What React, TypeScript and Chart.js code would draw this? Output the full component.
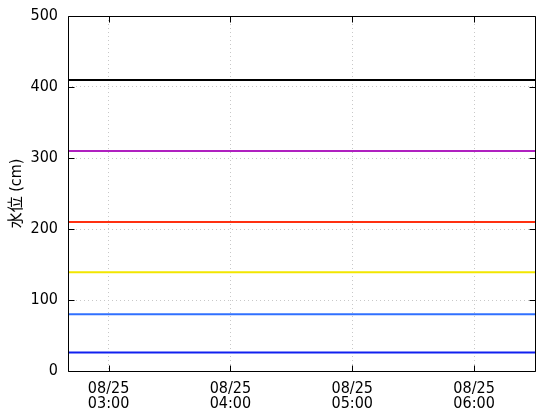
import React, { useEffect, useRef } from "react";
import { Chart, registerables } from "chart.js";

Chart.register(...registerables);

// x values are minutes since 00:00 on 08/25
const xRange = [160, 390];
const tickMinutes = [180, 240, 300, 360];
const tickDate = "08/25";
const yTicks = [0, 100, 200, 300, 400, 500];

const levelNames = ["L1", "L2", "L3", "L4", "L5", "L6"];
const levelValues = [410, 310, 210, 139, 80, 26];
const levelColors = ["#000000", "#b020c0", "#ff3010", "#f2e600", "#3070ff", "#1020f0"];

const yTitle = "水位 (cm)";

const fmt = (m: number) => {
  const h = Math.floor(m / 60);
  const mm = m % 60;
  return `${String(h).padStart(2, "0")}:${String(mm).padStart(2, "0")}`;
};

const framePlugin = {
  id: "frameTicks",
  afterDraw(chart: any) {
    const { ctx, chartArea } = chart;
    const { left, right, top, bottom } = chartArea;
    const xs = chart.scales.x;
    const ys = chart.scales.y;
    const len = 6;
    ctx.save();
    ctx.setLineDash([]);
    ctx.strokeStyle = "#000";
    ctx.lineWidth = 1;
    ctx.beginPath();
    const L = Math.round(left) + 0.5;
    const R = Math.round(right) + 0.5;
    const T = Math.round(top) + 0.5;
    const B = Math.round(bottom) + 0.5;
    ctx.rect(L, T, R - L, B - T);
    tickMinutes.forEach((m) => {
      const px = Math.round(xs.getPixelForValue(m)) + 0.5;
      ctx.moveTo(px, B);
      ctx.lineTo(px, B - len);
      ctx.moveTo(px, T);
      ctx.lineTo(px, T + len);
    });
    yTicks.forEach((v) => {
      const py = Math.round(ys.getPixelForValue(v)) + 0.5;
      ctx.moveTo(L, py);
      ctx.lineTo(L + len, py);
      ctx.moveTo(R, py);
      ctx.lineTo(R - len, py);
    });
    ctx.stroke();
    ctx.restore();
  },
};

export default function App() {
  const ref = useRef<HTMLCanvasElement>(null);
  useEffect(() => {
    document.body.style.margin = "0";
    const fontFamily = '"Liberation Sans Narrow", "DejaVu Sans Condensed", "Noto Sans CJK JP", sans-serif';
    const chart = new Chart(ref.current as HTMLCanvasElement, {
      type: "line",
      data: {
        datasets: levelNames.map((n, i) => ({
          label: n,
          data: xRange.map((x) => ({ x, y: levelValues[i] })),
          borderColor: levelColors[i],
          backgroundColor: levelColors[i],
          borderWidth: 2,
          pointRadius: 0,
          fill: false,
        })),
      },
      options: {
        responsive: false,
        animation: false,
        layout: { padding: { left: 0, right: 25, top: 16, bottom: 0 } },
        plugins: { legend: { display: false }, tooltip: { enabled: false } },
        scales: {
          x: {
            type: "linear",
            min: xRange[0],
            max: xRange[1],
            afterBuildTicks: (s: any) => {
              s.ticks = tickMinutes.map((v) => ({ value: v }));
            },
            afterFit: (s: any) => {
              s.height = 49;
              s.paddingLeft = 0;
              s.paddingRight = 0;
            },
            border: { display: false, dash: [1, 3] },
            grid: { color: "#c8c8c8", drawTicks: false },
            ticks: {
              padding: 11,
              color: "#000",
              maxRotation: 0,
              autoSkip: false,
              font: { family: fontFamily, size: 16, lineHeight: 0.9 },
              callback: (v: any) => [tickDate, fmt(Number(v))],
            },
          },
          y: {
            type: "linear",
            min: 0,
            max: 500,
            afterBuildTicks: (s: any) => {
              s.ticks = yTicks.map((v) => ({ value: v }));
            },
            afterFit: (s: any) => {
              s.width = 68;
              s.paddingTop = 0;
              s.paddingBottom = 0;
            },
            border: { display: false, dash: [1, 3] },
            grid: { color: "#c8c8c8", drawTicks: false },
            ticks: {
              padding: 10,
              color: "#000",
              font: { family: fontFamily, size: 16 },
            },
            title: {
              display: true,
              text: yTitle,
              color: "#000",
              padding: { top: 7, bottom: 0 },
              font: { family: fontFamily, size: 16 },
            },
          },
        },
      },
      plugins: [framePlugin],
    } as any);
    return () => chart.destroy();
  }, []);
  return (
    <div style={{ width: 560, height: 420 }}>
      <canvas ref={ref} width={560} height={420} />
    </div>
  );
}
